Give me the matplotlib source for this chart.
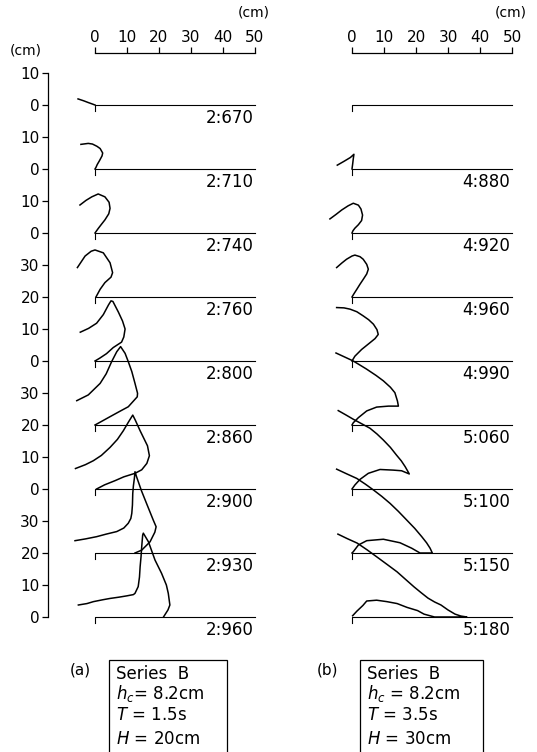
import matplotlib
matplotlib.use('Agg')
import matplotlib.pyplot as plt
from matplotlib.patches import Rectangle
import numpy as np

# baselines of the stacked profiles on the common vertical scale (cm), top to bottom
baselines = [160, 140, 120, 100, 80, 60, 40, 20, 0]
times_a = ['2:670', '2:710', '2:740', '2:760', '2:800', '2:860', '2:900', '2:930', '2:960']
times_b = ['', '4:880', '4:920', '4:960', '4:990', '5:060', '5:100', '5:150', '5:180']

ytick_vals = list(range(0, 171, 10))
ytick_labels = ['0', '10', '20', '30', '0', '10', '20', '30', '0', '10', '20', '30',
                '0', '10', '0', '10', '0', '10']
xtick_vals = [0, 10, 20, 30, 40, 50]

# profiles: (x, height above own baseline), cm
prof_a = [
    ([-5.3, -3.5, -2.2, -0.8, 0.0],
     [1.9, 1.3, 0.8, 0.3, 0.0]),
    ([-4.4, -2.1, -0.8, 0.6, 1.6, 2.4, 2.2, 1.4, 0.7, 0.3, 0.0],
     [7.7, 8.0, 7.8, 7.1, 6.4, 5.0, 4.1, 2.6, 1.4, 0.5, 0.0]),
    ([-4.7, -2.8, -1.0, 1.0, 3.1, 4.4, 4.7, 4.3, 3.1, 2.0, 1.0, 0.0],
     [8.75, 10.2, 11.3, 12.2, 11.3, 9.6, 7.7, 6.0, 4.1, 2.7, 1.4, 0.0]),
    ([-5.5, -3.1, -1.2, 0.0, 2.6, 4.7, 5.5, 5.0, 3.1, 1.6, 0.3],
     [9.2, 12.8, 14.3, 14.7, 13.8, 10.7, 7.6, 6.2, 4.5, 2.4, 0.0]),
    ([-4.6, -2.0, 0.5, 2.6, 4.2, 5.0, 5.6, 7.3, 8.6, 9.4, 9.0, 8.3, 5.7, 3.6, 1.5, 0.0],
     [9.0, 10.2, 11.8, 14.5, 17.5, 18.8, 18.6, 15.3, 12.5, 10.0, 7.5, 5.9, 4.2, 2.3, 0.9, 0.0]),
    ([-5.7, -2.1, 1.6, 3.5, 5.2, 6.8, 8.0, 9.4, 10.4, 11.5, 12.5, 13.3, 13.2, 10.4, 7.8, 4.7, 2.0, 0.0],
     [7.6, 9.4, 13.0, 16.0, 19.8, 22.9, 24.5, 22.4, 19.8, 16.7, 13.0, 9.9, 8.8, 5.7, 4.3, 2.6, 1.1, 0.0]),
    ([-6.1, -3.0, -0.5, 2.0, 4.7, 7.0, 8.85, 10.5, 11.8, 12.6, 14.1, 16.4, 17.0, 16.2, 14.6, 12.5,
      9.0, 6.25, 3.0, 0.5],
     [6.4, 7.6, 8.85, 10.5, 13.0, 15.5, 18.2, 21.0, 23.1, 21.5, 18.2, 13.5, 10.4, 8.0, 6.0, 4.9,
      3.8, 2.6, 1.3, 0.0]),
    ([-6.25, -3.0, 0.5, 3.5, 6.8, 9.0, 10.4, 11.2, 11.5, 11.7, 11.8, 12.0, 12.3, 12.5, 13.0, 14.5,
      16.1, 18.2, 19.1, 18.7, 17.2, 14.6, 12.5],
     [3.85, 4.4, 5.1, 5.9, 6.7, 7.8, 9.3, 10.8, 12.4, 15.0, 18.65, 21.0, 23.3, 25.4, 23.8, 19.5,
      15.5, 10.3, 8.2, 6.5, 3.5, 0.9, 0.0]),
    ([-5.2, -2.5, -0.5, 2.5, 4.7, 7.5, 9.9, 12.0, 12.5, 13.5, 13.9, 14.1, 14.4, 14.6, 14.9, 15.1,
      16.7, 18.75, 20.8, 22.3, 22.9, 23.4, 22.8, 21.4],
     [3.75, 4.2, 4.8, 5.4, 5.8, 6.2, 6.6, 7.0, 7.4, 9.5, 12.5, 15.7, 19.0, 22.0, 25.6, 26.2,
      23.5, 17.8, 13.65, 10.0, 7.4, 3.75, 2.2, 0.0]),
]

prof_b = [
    None,
    ([-4.6, -2.5, -0.5, 0.6, 0.4, 0.2, 0.0],
     [1.2, 2.4, 3.6, 4.6, 3.2, 1.5, 0.0]),
    ([-6.9, -5.0, -3.2, -1.2, 0.4, 2.0, 2.8, 3.3, 3.0, 2.0, 0.9, 0.3, 0.0],
     [4.4, 5.8, 7.2, 8.5, 9.3, 8.7, 7.5, 5.6, 3.9, 2.6, 1.5, 0.7, 0.0]),
    ([-4.8, -3.2, -1.7, 0.0, 0.9, 2.5, 3.5, 4.6, 5.1, 4.6, 3.5, 2.5, 1.5, 0.6, 0.0],
     [9.2, 10.6, 11.8, 12.8, 13.1, 12.6, 11.8, 10.2, 8.7, 7.2, 5.5, 4.0, 2.4, 1.0, 0.0]),
    ([-4.8, -2.5, -0.6, 1.5, 3.5, 5.2, 6.7, 7.8, 8.2, 7.2, 5.6, 3.0, 0.9, 0.0],
     [16.7, 16.6, 16.2, 15.4, 14.1, 12.9, 11.5, 9.8, 8.3, 7.0, 5.7, 3.6, 1.5, 0.0]),
    ([-5.0, -2.4, 0.4, 4.5, 7.5, 9.8, 12.0, 13.4, 14.2, 14.5, 13.0, 11.4, 7.7, 4.6, 2.0, 0.4, 0.0],
     [22.5, 21.3, 20.0, 17.5, 15.5, 13.8, 11.8, 10.1, 7.5, 5.9, 5.9, 5.9, 5.6, 4.4, 2.3, 0.7, 0.0]),
    ([-4.3, -2.0, 0.4, 3.0, 5.6, 7.8, 9.8, 12.0, 13.9, 15.4, 16.6, 17.4, 17.9, 15.5, 12.9, 8.75,
      5.1, 2.5, 0.9, 0.0],
     [24.5, 23.2, 21.8, 20.4, 19.0, 17.2, 15.3, 13.0, 10.6, 8.8, 7.0, 5.6, 4.7, 5.7, 5.9, 6.1,
      4.9, 3.0, 1.25, 0.0]),
    ([-4.8, -1.8, 1.5, 4.2, 6.7, 9.3, 11.9, 14.5, 17.1, 19.6, 21.8, 23.3, 24.4, 25.1, 21.25,
      18.65, 15.0, 9.8, 4.6, 2.0, 0.4, 0.0],
     [26.2, 24.8, 23.3, 21.5, 19.7, 17.7, 15.5, 13.0, 10.3, 7.7, 5.1, 3.2, 1.5, 0.0, 0.0,
      1.5, 3.2, 4.3, 3.85, 2.5, 0.4, 0.0]),
    ([-4.4, -1.5, 1.6, 4.7, 7.8, 11.0, 14.1, 16.8, 19.4, 21.6, 23.75, 25.8, 27.8, 30.0, 32.2, 34.0,
      35.9, 25.8, 22.5, 20.5, 17.2, 14.1, 10.9, 7.7, 4.6, 3.4, 1.5, 0.2],
     [25.9, 24.5, 23.1, 21.0, 18.75, 16.4, 14.1, 11.7, 9.4, 7.6, 5.9, 4.7, 3.75, 2.2, 0.9, 0.3,
      0.0, 0.0, 0.9, 2.0, 3.0, 4.2, 4.8, 5.25, 5.0, 3.6, 1.8, 0.4]),
]

# text of the two legend boxes
legend_a = ['Series  B', '$h_c$= 8.2cm', '$T$ = 1.5s', '$H$ = 20cm']
legend_b = ['Series  B', '$h_c$ = 8.2cm', '$T$ = 3.5s', '$H$ = 30cm']

W, H = 537, 752
K = 3.2          # px per cm
Y0 = 617         # pixel row of the lowest baseline

fig = plt.figure(figsize=(W / 100, H / 100), dpi=100)


def make_panel(x0, x1, origin, times, profiles, with_yaxis):
    ax = fig.add_axes([x0 / W, 0, (x1 - x0) / W, 1])
    ax.set_xlim((x0 - origin) / K, (x1 - origin) / K)
    ax.set_ylim((Y0 - H) / K, Y0 / K)
    ax.patch.set_visible(False)

    for s in ['right', 'bottom']:
        ax.spines[s].set_visible(False)

    # scale bar along the top
    ax.spines['top'].set_position(('data', (Y0 - 53) / K))
    ax.spines['top'].set_bounds(0, 50)
    ax.spines['top'].set_linewidth(0.9)
    ax.xaxis.set_ticks_position('top')
    ax.set_xticks(xtick_vals)
    ax.set_xticklabels([str(v) for v in xtick_vals])
    ax.tick_params(axis='x', direction='out', length=4, width=0.9, pad=2, labelsize=11)
    ax.text(xtick_vals[-1] + 4.5, (Y0 - 13) / K, '(cm)', ha='right', va='center', fontsize=10)

    if with_yaxis:
        ax.spines['left'].set_position(('data', (48 - origin) / K))
        ax.spines['left'].set_bounds(ytick_vals[0], ytick_vals[-1])
        ax.spines['left'].set_linewidth(0.9)
        ax.set_yticks(ytick_vals)
        ax.set_yticklabels(ytick_labels)
        ax.tick_params(axis='y', direction='out', length=4, width=0.9, pad=2, labelsize=11)
        ax.text((26 - origin) / K, (Y0 - 50) / K, '(cm)', ha='center', va='center', fontsize=10)
    else:
        ax.spines['left'].set_visible(False)
        ax.set_yticks([])

    for base, label, prof in zip(baselines, times, profiles):
        ax.plot([0, 0, 50], [base - 2, base, base], color='black', lw=0.8)
        if label:
            ax.text(49.5, base - 4.2, label, ha='right', va='center', fontsize=12)
        if prof is not None:
            px, py = prof
            ax.plot(px, np.array(py) + base, color='black', lw=1.1)
    return ax


ax_a = make_panel(0, 280, 95, times_a, prof_a, True)
ax_b = make_panel(280, 537, 352, times_b, prof_b, False)

# legend boxes (pixel layout)
line_rows = [674, 693, 715, 739]
info = [('(a)', legend_a, 80, 109, 227),
        ('(b)', legend_b, 328, 360, 483)]
for tag, lines, tag_x, bx0, bx1 in info:
    fig.text(tag_x / W, 1 - 670 / H, tag, ha='center', va='center', fontsize=11)
    fig.patches.append(Rectangle((bx0 / W, -0.05), (bx1 - bx0) / W, 0.05 + (H - 660) / H,
                                 transform=fig.transFigure, fill=False, lw=0.9,
                                 edgecolor='black'))
    for row, t in zip(line_rows, lines):
        fig.text((bx0 + 7) / W, 1 - row / H, t, ha='left', va='center', fontsize=12)

fig.savefig('out.png', dpi=100)
